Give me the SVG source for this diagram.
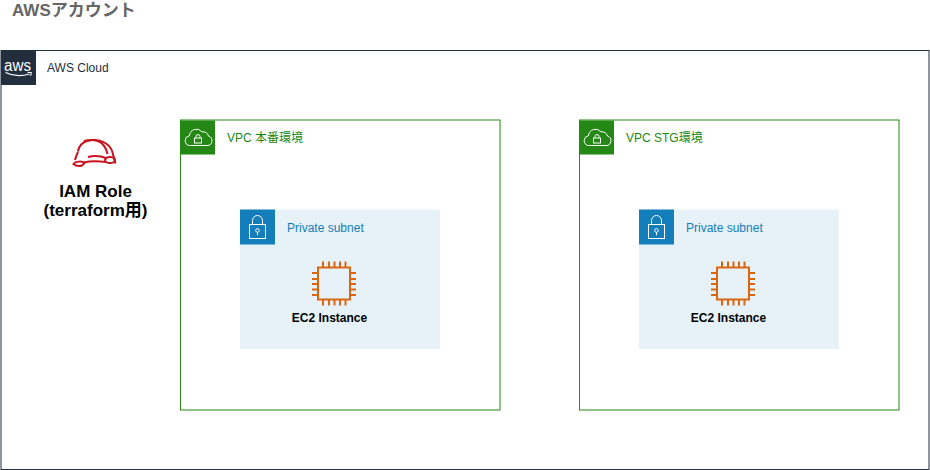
<svg xmlns="http://www.w3.org/2000/svg" width="930" height="470" viewBox="0 0 930 470">
<defs>
<style>
text{font-family:"Liberation Sans","Noto Sans CJK JP",sans-serif}
.vpc{fill:none;stroke:#248814;stroke-width:1}
.vt{font-size:12px;fill:#248814}
.st{font-size:12px;fill:#147EBA}
.ec{font-size:12px;font-weight:bold;fill:#000;text-anchor:middle}
.w{fill:none;stroke:#fff;stroke-width:1}
.chip{fill:none;stroke:#D86613;stroke-width:2}
</style>
<g id="vpcIcon">
<rect x="0" y="0" width="34" height="34" fill="#248814"/>
<path class="w" d="M8.500 25h17.500a4.800 4.800 0 0 0 1.500-9.400a5.500 5.500 0 0 0-6.500-4.200a7 7 0 0 0-12.500 3.800a5 5 0 0 0-.5 9.800z"/>
<rect class="w" x="13.500" y="17.500" width="7" height="5"/>
<path class="w" d="M15 17.500v-1.500a2 2 0 0 1 4 0v1.500"/>
</g>
<g id="subnetIcon">
<rect x="0" y="0" width="35" height="35" fill="#147EBA"/>
<rect class="w" x="9.500" y="15" width="16" height="14"/>
<path class="w" d="M12.500 15v-4a5 5 0 0 1 10 0v4"/>
<circle class="w" cx="17.500" cy="21" r="1.800"/>
<path class="w" d="M17.500 22.800v3"/>
</g>
<g id="chip">
<rect class="chip" x="6" y="6.500" width="32" height="32"/>
<path class="chip" d="M11 6.500v-6M17 6.500v-6M22.500 6.500v-6M28 6.500v-6M33.500 6.500v-6M11 38.500v6M17 38.500v6M22.500 38.500v6M28 38.500v6M33.500 38.500v6M6 12h-6M6 18h-6M6 23h-6M6 28.500h-6M6 34h-6M38 12h6M38 18h6M38 23h6M38 28.500h6M38 34h6"/>
</g>
</defs>
<g id="title"><text x="12" y="16" font-size="17" font-weight="bold" fill="#666">AWSアカウント</text></g>
<g id="aws-cloud">
<rect x="1" y="50.500" width="928" height="419" fill="none" stroke="#232F3E"/>
<rect x="1" y="50" width="35" height="35" fill="#232F3E"/>
<text x="17.500" y="71" font-size="16" fill="#fff" text-anchor="middle" textLength="27" lengthAdjust="spacingAndGlyphs">aws</text>
<path d="M5.500 72.500q11 5.500 24 1.500" fill="none" stroke="#fff" stroke-width="1.300"/>
<path d="M27.500 72.500l4 0-1 3.500" fill="none" stroke="#fff"/>
<text x="47" y="72" font-size="12" fill="#232F3E">AWS Cloud</text>
</g>
<g id="iam-role">
<g fill="none" stroke="#C7131F" stroke-width="2">
<path d="M78 151.500c1-7 7-11.500 15-11.500c9 0 18 4 20 14c.8 4 1.500 7 2.500 9.500"/>
<path d="M78 152c-1.500 3-2.500 6-3 8"/>
<path d="M88 157c6-1.500 13-1 19 1.500"/>
<path d="M84 141c2-.8 10-1.500 14 0c5 2 8 6 9.500 13"/>
<path d="M73.500 164c2-3 9-3 11-1l-2.500 2.500c-2 .6-6 .6-8.500-1.500z"/>
<path d="M84 162.500c6-1.500 13-1.500 22-.5"/>
<ellipse cx="110" cy="160" rx="5" ry="3"/>
</g>
<text x="95.500" y="197" font-size="17" font-weight="bold" text-anchor="middle" fill="#000">IAM Role</text>
<text x="95.500" y="216" font-size="17" font-weight="bold" text-anchor="middle" fill="#000">(terraform用)</text>
</g>
<g id="vpc-prod">
<rect class="vpc" x="180.500" y="120" width="319.500" height="290"/>
<use href="#vpcIcon" x="181" y="120.500"/>
<text class="vt" x="227" y="142">VPC 本番環境</text>
</g>
<g id="subnet-prod">
<rect x="240" y="209.500" width="200" height="139.500" fill="#E6F2F8"/>
<use href="#subnetIcon" x="240" y="209.500"/>
<text class="st" x="287" y="232">Private subnet</text>
</g>
<g id="ec2-prod">
<use href="#chip" x="312" y="261"/>
<text class="ec" x="329.500" y="322">EC2 Instance</text>
</g>
<g id="vpc-stg">
<rect class="vpc" x="579.500" y="120" width="319.500" height="290"/>
<use href="#vpcIcon" x="580" y="120.500"/>
<text class="vt" x="626" y="142">VPC STG環境</text>
</g>
<g id="subnet-stg">
<rect x="639" y="209.500" width="200" height="139.500" fill="#E6F2F8"/>
<use href="#subnetIcon" x="639" y="209.500"/>
<text class="st" x="686" y="232">Private subnet</text>
</g>
<g id="ec2-stg">
<use href="#chip" x="711" y="261"/>
<text class="ec" x="728.500" y="322">EC2 Instance</text>
</g>
<g id="connectors"></g>
</svg>
